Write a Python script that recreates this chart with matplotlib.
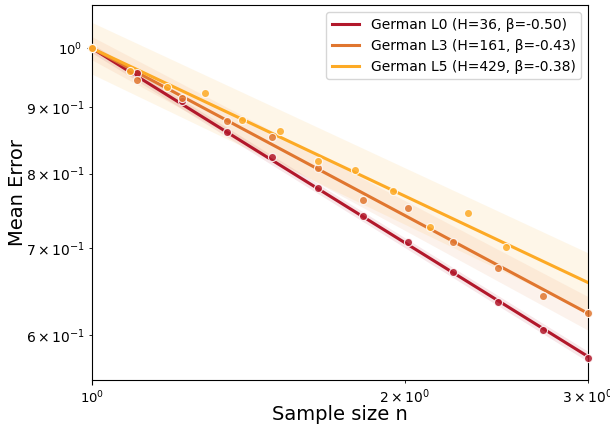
import numpy as np
import matplotlib
matplotlib.use("Agg")
import matplotlib.pyplot as plt

# ---- data ----
labels = ["German L0 (H=36, β=-0.50)",
          "German L3 (H=161, β=-0.43)",
          "German L5 (H=429, β=-0.38)"]
betas = [-0.50, -0.43, -0.38]
colors = ["#b2182b", "#e0762f", "#fdaa25"]

x_l0 = [1.0, 1.105, 1.221, 1.349, 1.491, 1.648, 1.821, 2.012, 2.223, 2.456, 2.714, 3.0]
y_l0 = [1.0, 0.9568, 0.9106, 0.8617, 0.8240, 0.7795, 0.7416, 0.7078, 0.6707, 0.6358, 0.6053, 0.5754]

x_l3 = [1.0, 1.105, 1.221, 1.349, 1.491, 1.648, 1.821, 2.012, 2.223, 2.456, 2.714, 3.0]
y_l3 = [1.0, 0.9455, 0.9150, 0.8779, 0.8541, 0.8080, 0.7625, 0.7517, 0.7083, 0.6755, 0.6435, 0.6235]

x_l5 = [1.0, 1.087, 1.181, 1.284, 1.395, 1.516, 1.648, 1.791, 1.947, 2.116, 2.300, 2.500]
y_l5 = [1.0, 0.9608, 0.9337, 0.9228, 0.8800, 0.8627, 0.8176, 0.8056, 0.7754, 0.7268, 0.7456, 0.7020]

# band half-widths (log10 units) at n=1 and n=3
band_w_start = [0.0035, 0.009, 0.020]
band_w_end = [0.0040, 0.013, 0.023]

xs = [x_l0, x_l3, x_l5]
ys = [y_l0, y_l3, y_l5]

fig = plt.figure(figsize=(6.1, 4.3), dpi=100)
ax = fig.add_axes([0.151, 0.116, 0.813, 0.872])
ax.set_xscale("log")
ax.set_yscale("log")

xf = np.geomspace(1, 3, 200)
lx = np.log10(xf) / np.log10(3)
band_alpha = [0.10, 0.09, 0.10]
for i in range(3):
    yf = xf ** betas[i]
    w = band_w_start[i] + (band_w_end[i] - band_w_start[i]) * lx
    ax.fill_between(xf, yf * 10 ** (-w), yf * 10 ** w, color=colors[i],
                    alpha=band_alpha[i], linewidth=0, zorder=1)
for i in range(3):
    yf = xf ** betas[i]
    ax.plot(xf, yf, color=colors[i], lw=2.2, label=labels[i], zorder=3)
for i in range(3):
    ax.scatter(xs[i], ys[i], s=34, color=colors[i], alpha=0.85,
               edgecolor="white", linewidth=0.8, zorder=4, clip_on=False)

ax.set_xlim(1, 3)
ax.set_ylim(0.5536, 1.080)
ax.tick_params(labelsize=9.5)
ax.set_xlabel("Sample size n", fontsize=14)
ax.set_ylabel("Mean Error", fontsize=14)
ax.xaxis.set_label_coords(0.5, -0.066)
ax.yaxis.set_label_coords(-0.131, 0.5)
ax.legend(loc="upper right", fontsize=10)

fig.savefig("out.png", dpi=100)
